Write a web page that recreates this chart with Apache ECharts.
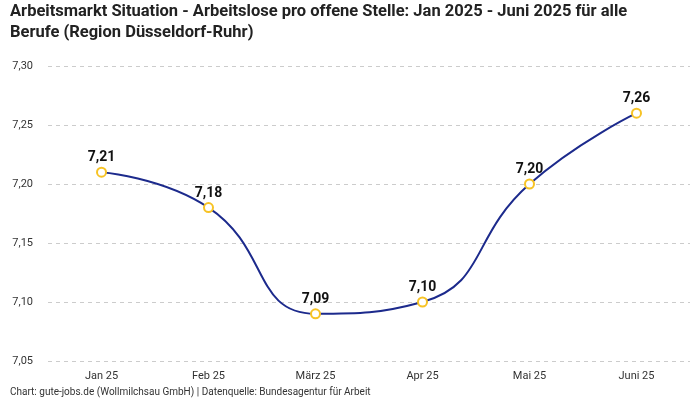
<!DOCTYPE html>
<html><head><meta charset="utf-8">
<script src="https://cdn.jsdelivr.net/npm/echarts@6/dist/echarts.min.js"></script>
<style>html,body{margin:0;padding:0;background:#fff}#c{width:700px;height:400px}</style>
</head><body><div id="c"></div>
<script>
const categories = ['Jan 25','Feb 25','März 25','Apr 25','Mai 25','Juni 25'];
const values = [7.21, 7.18, 7.09, 7.10, 7.20, 7.26];
const titleText = 'Arbeitsmarkt Situation - Arbeitslose pro offene Stelle: Jan 2025 - Juni 2025 für alle\nBerufe (Region Düsseldorf-Ruhr)';
const footerText = 'Chart: gute-jobs.de (Wollmilchsau GmbH) | Datenquelle: Bundesagentur für Arbeit';
const fmt = v => Number(v).toFixed(2).replace('.', ',');
const chart = echarts.init(document.getElementById('c'));
chart.setOption({
  animation:false,
  textStyle:{fontFamily:'Roboto'},
  title:[{text:titleText,left:10,top:1,padding:0,textStyle:{fontSize:16.5,fontWeight:'bold',color:'#222',lineHeight:21,fontFamily:'Roboto'}},
         {text:footerText,left:10,bottom:3,padding:0,textStyle:{fontSize:10,fontWeight:'normal',color:'#333',fontFamily:'Roboto'}}],
  grid:{left:48,right:10,top:66,bottom:39},
  xAxis:{type:'category',data:categories,boundaryGap:true,
    axisLine:{show:false},axisTick:{show:false},
    axisLabel:{color:'#333',fontSize:11,margin:10}},
  yAxis:{type:'value',min:7.05,max:7.30,interval:0.05,
    axisLabel:{formatter:fmt,color:'#333',fontSize:11,margin:15},
    splitLine:{lineStyle:{type:[4,4],color:'#ccc'}}},
  series:[{type:'line',data:values,smooth:0.5,
    lineStyle:{color:'#1c2a8c',width:2},
    itemStyle:{color:'#fff',borderColor:'#f7c325',borderWidth:2},
    symbol:'circle',symbolSize:9,
    label:{show:true,position:'top',formatter:p=>fmt(p.value),fontSize:14,fontWeight:'bold',color:'#111',distance:2}}]
});
</script></body></html>
